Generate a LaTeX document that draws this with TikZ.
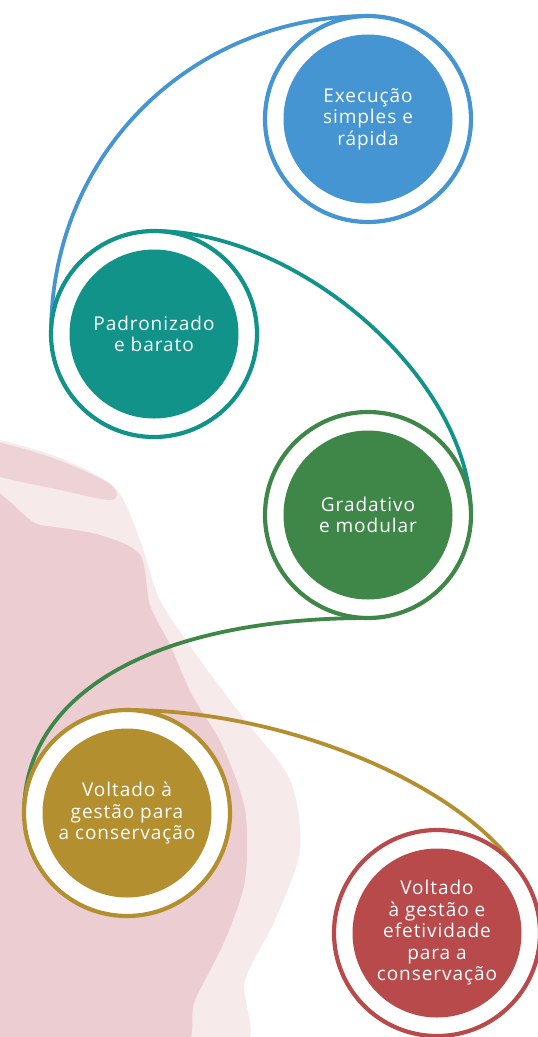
\documentclass[tikz,border=0pt]{standalone}
\usepackage{fontspec}
\setmainfont[LetterSpace=5]{Open Sans}
\usepackage{xcolor}
\usepackage{tikz}
\usetikzlibrary{
  positioning,
  backgrounds
}
\definecolor{stepblue}{RGB}{68,149,209}
\definecolor{stepteal}{RGB}{17,147,138}
\definecolor{stepgreen}{RGB}{63,135,73}
\definecolor{stepgold}{RGB}{180,143,47}
\definecolor{stepred}{RGB}{184,74,75}
\definecolor{stain}{RGB}{222,170,176}

\begin{document}
\begin{tikzpicture}[x=1pt, y=-1pt,
      ring/.style={circle, draw=#1, fill=white, line width=4.2pt, minimum size=206pt, inner sep=0pt, outer sep=0pt},
      disc/.style={circle, fill=#1, minimum size=169pt, inner sep=0pt, align=center, text=white, font=\fontsize{19}{21.5}\selectfont},
      link/.style={draw=#1, line width=3.8pt}
    ]
      \useasboundingbox (0,0) rectangle (538,1037);

      % Rings
      \node[ring=stepblue] (ring1) at (368,119) {};
      \node[ring=stepteal] (ring2) at (154,334) {};
      \node[ring=stepgreen] (ring3) at (368,515) {};
      \node[ring=stepgold] (ring4) at (127,813) {};
      \node[ring=stepred] (ring5) at (437,933) {};

      % Steps
      \node[disc=stepblue] (exec) at (ring1) {Execução\\simples e\\rápida};
      \node[disc=stepteal] (padr) at (ring2) {Padronizado\\e barato};
      \node[disc=stepgreen] (grad) at (ring3) {Gradativo\\e modular};
      \node[disc=stepgold] (gest) at (ring4) {Voltado à\\gestão para\\a conservação};
      \node[disc=stepred] (efet) at (ring5) {Voltado\\à gestão e\\efetividade\\para a\\conservação};

      \begin{pgfonlayer}{background}
        % Watercolour stain
        \fill[stain, opacity=0.25] plot[smooth cycle] coordinates {(-40,432) (0,440) (60,458) (115,488) (140,540) (160,600) (200,660) (245,720) (290,780) (300,850) (275,920) (245,980) (230,1060) (-40,1060)};
        \fill[stain, opacity=0.45] plot[smooth cycle] coordinates {(-40,515) (40,525) (100,535) (140,555) (150,605) (170,645) (192,695) (222,745) (245,810) (245,880) (225,940) (195,1000) (170,1060) (-40,1060)};
        \fill[stain, opacity=0.35] plot[smooth cycle] coordinates {(-20,440) (50,457) (110,484) (112,500) (60,490) (-20,470)};

        % Connectors
        \draw[link=stepblue] (ring1.north) .. controls +(-173,0) and +(0,-184) .. (ring2.west);
        \draw[link=stepteal] (ring2.north) .. controls +(146,0) and +(0,-135) .. (ring3.east);
        \draw[link=stepgreen] (ring3.south) .. controls +(-208,0) and +(0,-123) .. (ring4.west);
        \draw[link=stepgold] (ring4.north) .. controls +(193,0) and +(0,-113) .. (ring5.east);
      \end{pgfonlayer}
    \end{tikzpicture}
\end{document}
